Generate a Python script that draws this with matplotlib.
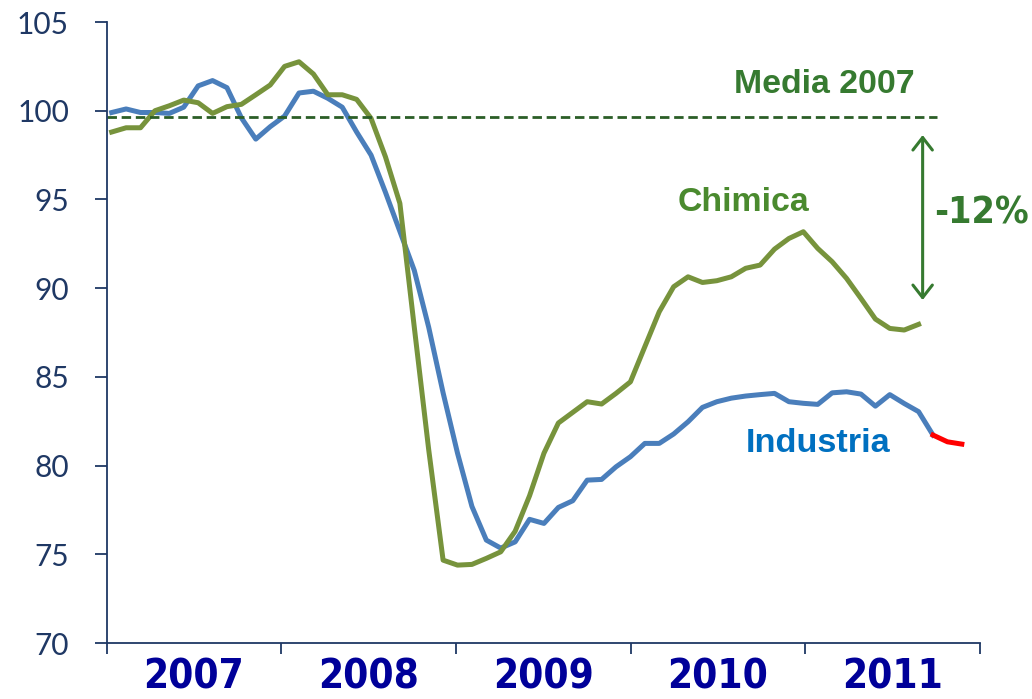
import numpy as np
import matplotlib
matplotlib.use("Agg")
import matplotlib.pyplot as plt
import matplotlib.transforms as mtransforms
from matplotlib import font_manager

# dati mensili (indice 2007 = base)
years = ["2007", "2008", "2009", "2010", "2011"]

industria = [99.9, 100.1, 99.9, 99.9, 99.85, 100.2, 101.4, 101.7, 101.3, 99.6,
             98.4, 99.1, 99.7, 101.0, 101.1, 100.7, 100.2, 98.8, 97.5, 95.4,
             93.2, 91.0, 87.8, 84.1, 80.7, 77.7, 75.8, 75.35, 75.7, 76.97,
             76.74, 77.64, 78.02, 79.18, 79.22, 79.93, 80.5, 81.25, 81.25, 81.78,
             82.47, 83.28, 83.6, 83.8, 83.92, 84.0, 84.07, 83.6, 83.51, 83.45,
             84.1, 84.16, 84.03, 83.35, 84.0, 83.5, 83.04, 81.72]
industria_stima = [81.72, 81.34, 81.21]  # ultimi mesi (rosso)

chimica = [98.8, 99.04, 99.04, 100.0, 100.28, 100.6, 100.45, 99.85, 100.23, 100.36,
           100.9, 101.45, 102.5, 102.76, 102.07, 100.9, 100.9, 100.64, 99.57, 97.4,
           94.78, 87.8, 80.9, 74.67, 74.39, 74.43, 74.77, 75.14, 76.3, 78.3,
           80.7, 82.4, 83.0, 83.6, 83.47, 84.07, 84.72, 86.7, 88.67, 90.08,
           90.64, 90.32, 90.42, 90.64, 91.12, 91.3, 92.2, 92.8, 93.18, 92.24,
           91.49, 90.55, 89.42, 88.26, 87.73, 87.64, 87.96]

media_2007 = 99.66

navy = "#1F3864"
green_txt = "#367A30"

# font stretto (se c'e'), altrimenti Liberation Sans un po' piu' piccolo
narrow = None
for fe in font_manager.fontManager.ttflist:
    if ("Narrow" in fe.name or "Condensed" in fe.fname) and fe.weight in (700, "bold"):
        narrow = fe.fname
        break
if narrow:
    year_kw = dict(fontproperties=font_manager.FontProperties(fname=narrow, size=29))
    pct_kw = dict(fontproperties=font_manager.FontProperties(fname=narrow, size=27))
else:
    year_kw = dict(fontsize=28, family="Liberation Sans", fontweight="bold")
    pct_kw = dict(fontsize=27, family="Liberation Sans", fontweight="bold")

fig = plt.figure(figsize=(10.32, 6.99), dpi=100)
ax = fig.add_axes([0.1032, 0.0801, 0.8464, 0.8884])

x_ind = np.arange(len(industria))
x_red = np.arange(len(industria) - 1, len(industria) - 1 + len(industria_stima))
x_chi = np.arange(len(chimica))

ax.plot(x_ind, industria, color="#4A7EBB", lw=3.6)
ax.plot(x_red, industria_stima, color="#FF0000", lw=3.6)
ax.plot(x_chi, chimica, color="#77933C", lw=3.6)

xlo, xhi = -0.36, 60.26
ax.hlines(media_2007, xlo, 57.3, colors="#2B5E27", lw=2, linestyles=(0, (3.4, 1.7)))

# freccia -12%
ax.annotate("", xy=(56.28, 89.33), xytext=(56.28, 98.63),
            arrowprops=dict(arrowstyle="<->,head_length=0.9,head_width=0.7",
                            color=green_txt, lw=2.2, shrinkA=0, shrinkB=0))

ax.text(49.43, 101.5, "Media 2007", color=green_txt, fontsize=24.4,
        fontweight="bold", family="Liberation Sans", ha="center", va="center")
ax.text(43.88, 94.8, "Chimica", color="#4A8A2E", fontsize=24.4,
        fontweight="bold", family="Liberation Sans", ha="center", va="center")
ax.text(49.0, 81.27, "Industria", color="#0070C0", fontsize=24.7,
        fontweight="bold", family="Liberation Sans", ha="center", va="center")
ax.text(60.35, 94.18, "-12%", color=green_txt, ha="center", va="center", **pct_kw)

ax.set_xlim(xlo, xhi)
ax.set_ylim(70, 105)
ax.set_yticks(range(70, 106, 5))
edges = np.linspace(xlo, xhi, len(years) + 1)
ax.set_xticks(edges)
ax.set_xticklabels([])

trans = mtransforms.blended_transform_factory(ax.transData, ax.transAxes)
for i, y in enumerate(years):
    ax.text((edges[i] + edges[i + 1]) / 2, -0.0875, y, transform=trans,
            ha="center", va="bottom", color="#000099", **year_kw)

for s in ["top", "right"]:
    ax.spines[s].set_visible(False)
for s in ["left", "bottom"]:
    ax.spines[s].set_color(navy)
    ax.spines[s].set_linewidth(1.3)

ax.tick_params(axis="y", length=9, width=1.3, color=navy, pad=18,
               labelsize=21.5, labelcolor=navy)
ax.tick_params(axis="x", length=8, width=1.3, color=navy)
for lab in ax.get_yticklabels():
    lab.set_family("Lato")

fig.savefig("out.png", dpi=100)
